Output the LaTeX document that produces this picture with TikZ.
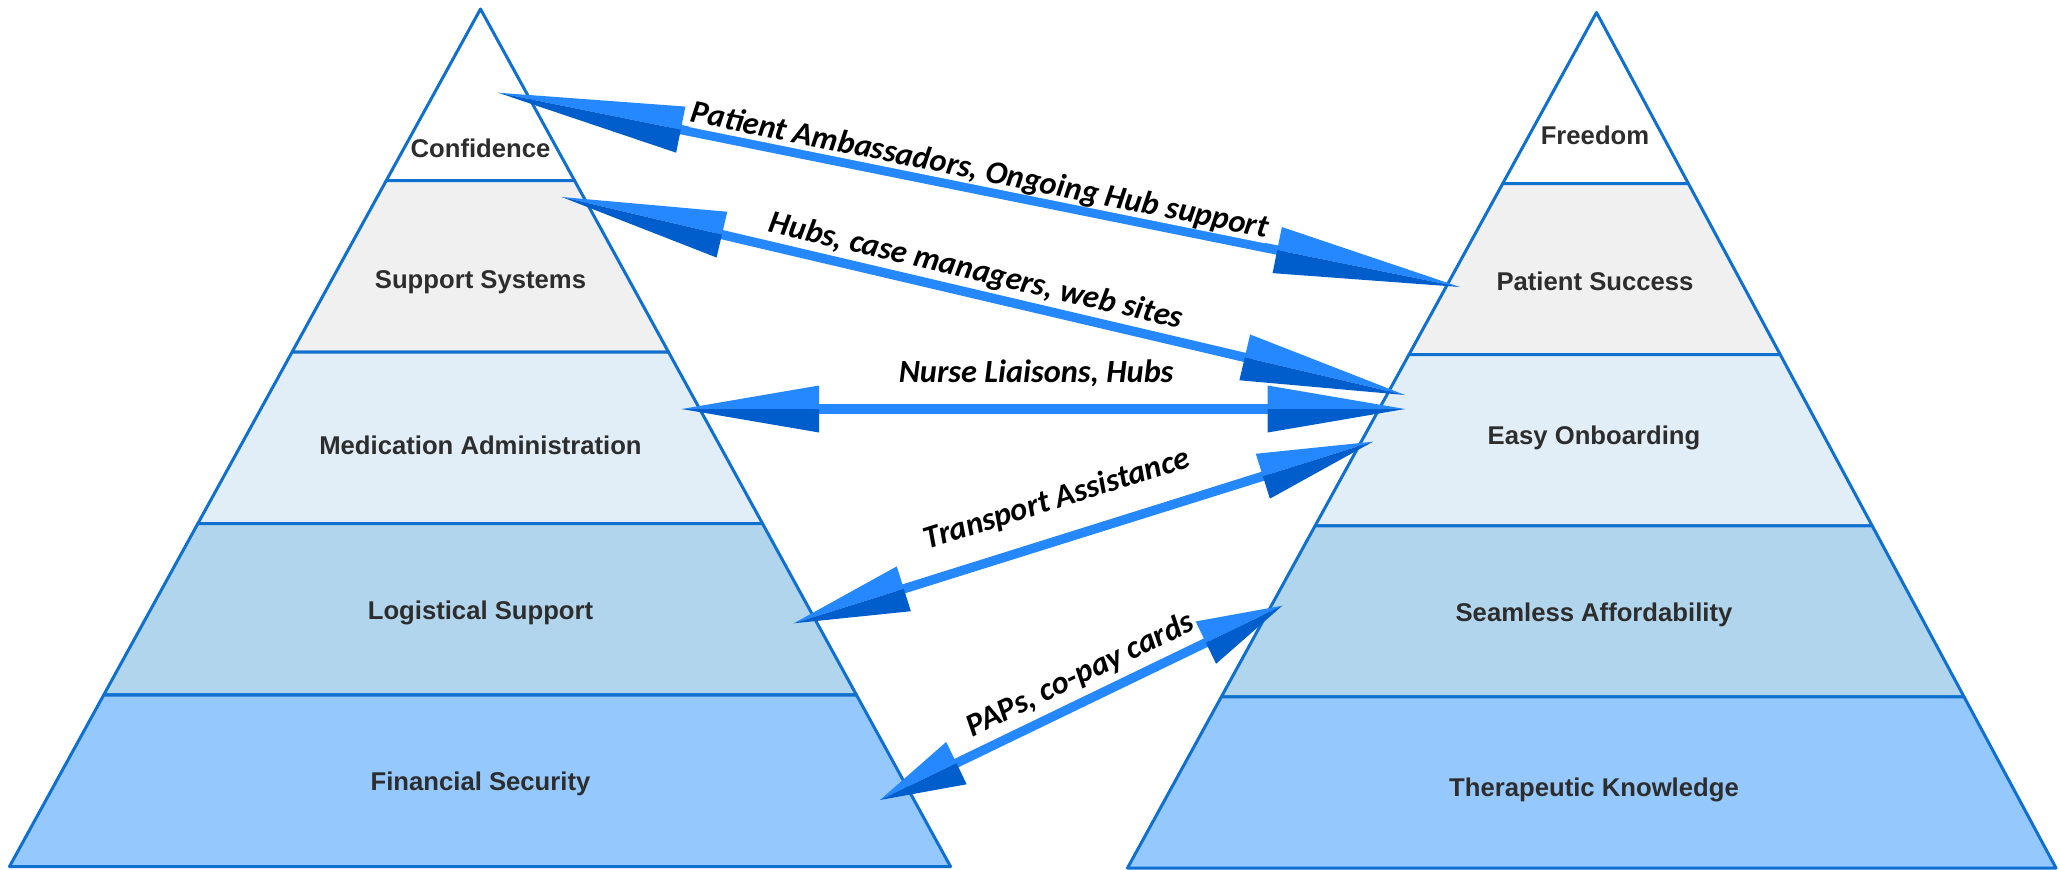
\documentclass[tikz,border=0pt]{standalone}
\usepackage{fontspec}
\usetikzlibrary{calc}
\newfontfamily\levelfont{Liberation Sans}
\newfontfamily\linkfont{Carlito}

\definecolor{pyrline}{RGB}{16,112,208}
\definecolor{bandb}{RGB}{240,240,240}
\definecolor{bandc}{RGB}{225,238,248}
\definecolor{bandd}{RGB}{177,213,236}
\definecolor{bande}{RGB}{149,200,253}
\definecolor{levtext}{RGB}{45,45,45}
\definecolor{headlight}{RGB}{38,136,255}
\definecolor{headdark}{RGB}{0,94,204}

\tikzset{
  band/.style={draw=pyrline, line width=0.03cm, line join=round},
  level/.style={font=\levelfont\bfseries\fontsize{7.3}{8}\selectfont, text=levtext, inner sep=0pt},
  link/.style={font=\linkfont\bfseries\itshape\fontsize{9.2}{11}\selectfont, sloped, inner sep=0pt, fill=white},
  shaft/.style={draw=headlight, line width=0.093cm}
}

% one half of a two-tone head: tip, other end, light side, dark side
\newcommand\halfhead[4]{%
  \coordinate (hb) at ($(#1)!0.19!(#2)$);
  \fill[headlight] (#1) -- ($(hb)!0.235cm!#3:(#2)$) -- (hb) -- cycle;
  \fill[headdark] (#1) -- (hb) -- ($(hb)!0.235cm!#4:(#2)$) -- cycle;
}
\newcommand\duoarrow[2]{%
  \draw[shaft] ($(#1)!0.18!(#2)$) -- ($(#2)!0.18!(#1)$);
  \halfhead{#1}{#2}{90}{-90}
  \halfhead{#2}{#1}{-90}{90}
}

\begin{document}
\begin{tikzpicture}[x=0.01cm, y=-0.01cm]
    \useasboundingbox (0,0) rectangle (2059,869);
    % pyramids
    \coordinate (lapex) at (480.5,9);
    \coordinate (lbl) at (9.5,866.5);
    \coordinate (lbr) at (950.5,866.5);
    \coordinate (rapex) at (1596.5,12.5);
    \coordinate (rbl) at (1127.5,868);
    \coordinate (rbr) at (2056,868);
    \foreach \p in {l,r}{
      \foreach \k/\col in {0/white,1/bandb,2/bandc,3/bandd,4/bande}{
        \pgfmathsetmacro\ta{\k/5}
        \pgfmathsetmacro\tb{(\k+1)/5}
        \filldraw[band, fill=\col] ($(\p apex)!\ta!(\p bl)$) -- ($(\p apex)!\tb!(\p bl)$)
          -- ($(\p apex)!\tb!(\p br)$) -- ($(\p apex)!\ta!(\p br)$) -- cycle;
      }
    }
    \node[level] (conf) at (480.5,148) {Confidence};
    \node[level] (supp) at (480.5,282) {Support Systems};
    \node[level] (medi) at (480.5,445) {Medication Administration};
    \node[level] (logi) at (480.5,613) {Logistical Support};
    \node[level] (fina) at (480.5,784) {Financial Security};
    \node[level] (free) at (1595,135) {Freedom};
    \node[level] (succ) at (1595,281) {Patient Success};
    \node[level] (onbo) at (1594,438) {Easy Onboarding};
    \node[level] (seam) at (1594,615) {Seamless Affordability};
    \node[level] (ther) at (1594,790) {Therapeutic Knowledge};
    % arrows
    \coordinate (amb-l) at (498,92.7);
    \coordinate (amb-r) at (1460,287);
    \coordinate (hub-l) at (561.7,197);
    \coordinate (hub-r) at (1405,395);
    \coordinate (nur-l) at (681.7,409);
    \coordinate (nur-r) at (1405,409);
    \coordinate (tra-l) at (793.8,623.3);
    \coordinate (tra-r) at (1372.9,441.7);
    \coordinate (pap-l) at (880,800);
    \coordinate (pap-r) at (1282.3,605.7);
    \duoarrow{amb-l}{amb-r}
    \duoarrow{hub-l}{hub-r}
    \duoarrow{nur-l}{nur-r}
    \duoarrow{tra-l}{tra-r}
    \duoarrow{pap-l}{pap-r}
    \path (amb-l) -- (amb-r) node[link, pos=0.497, above=1pt] (amb) {Patient Ambassadors, Ongoing Hub support};
    \path (hub-l) -- (hub-r) node[link, pos=0.485, above=2pt] (hub) {Hubs, case managers, web sites};
    \path (nur-l) -- (nur-r) node[link, pos=0.49, above=6pt] (nur) {Nurse Liaisons, Hubs};
    \path (tra-l) -- (tra-r) node[link, pos=0.475, above=7pt] (tra) {Transport Assistance};
    \path (pap-l) -- (pap-r) node[link, pos=0.525, above=3pt] (pap) {PAPs, co-pay cards};
\end{tikzpicture}
\end{document}
